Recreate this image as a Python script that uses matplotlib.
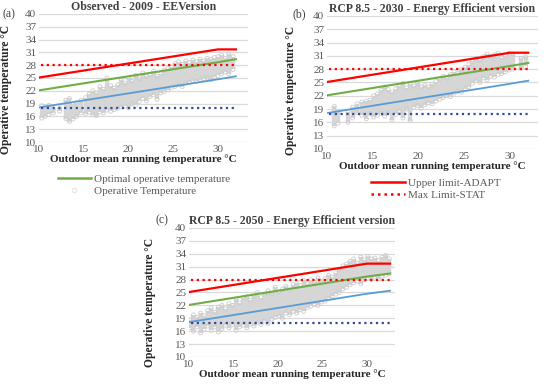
import matplotlib.pyplot as plt
import numpy as np
from matplotlib.lines import Line2D

plt.rcParams['font.family'] = ['Liberation Serif', 'DejaVu Serif']

# comfort limit lines (shared by all panels)
lim_x = [10, 30, 32]
upper_adapt = [25.1, 31.7, 31.7]
optimal = [22.1, 28.7, 29.4]
lower_adapt = [18.1, 24.7, 25.4]
max_stat = 28
min_stat = 18

yticks = [10, 13, 16, 19, 22, 25, 28, 31, 34, 37, 40]
xticks = [10, 15, 20, 25, 30]

# operative temperature clouds: x, low, high of each vertical streak
a_x = [10.3, 10.7, 11.1, 11.6, 12.3, 13.0, 13.4, 13.8, 14.2, 14.7, 15.2, 15.6, 16.0,
       16.4, 16.8, 17.2, 17.6, 18.0, 18.4, 18.8, 19.2, 19.6, 20.0, 20.4, 20.8, 21.2,
       21.6, 22.0, 22.4, 22.8, 23.2, 23.6, 24.0, 24.4, 24.8, 25.2, 25.6, 26.0, 26.4,
       26.8, 27.2, 27.6, 28.0, 28.4, 28.8, 29.2, 29.6, 30.0, 30.4, 30.8, 31.2, 31.7]
a_lo = [15.6, 16.0, 16.5, 16.8, 17.2, 15.5, 14.8, 15.4, 16.0, 16.8, 16.6, 17.0, 16.4,
        16.2, 17.0, 16.8, 17.5, 17.2, 17.6, 17.9, 18.2, 18.4, 18.0, 19.0, 18.6, 19.5,
        20.2, 19.6, 20.6, 21.0, 20.0, 21.5, 21.8, 22.2, 22.8, 23.0, 23.4, 23.0, 23.8,
        24.0, 24.4, 24.2, 24.6, 24.8, 25.0, 24.6, 25.2, 25.6, 26.0, 26.4, 26.0, 27.0]
a_hi = [18.5, 18.2, 18.6, 17.8, 18.0, 19.8, 20.2, 18.8, 19.2, 19.8, 20.4, 21.2, 22.0,
        21.5, 23.0, 22.4, 25.0, 23.2, 22.6, 23.4, 24.5, 23.8, 25.0, 24.2, 25.6, 24.8,
        26.2, 25.4, 25.8, 26.6, 25.4, 26.0, 26.8, 27.2, 27.5, 28.4, 28.8, 28.2, 29.0,
        28.6, 29.2, 28.8, 29.4, 29.0, 29.6, 29.4, 29.8, 30.0, 30.4, 29.6, 30.6, 30.0]

b_x = [10.8, 11.2, 12.3, 12.8, 13.3, 13.8, 14.3, 14.7, 15.1, 15.5, 15.9, 16.3, 16.7,
       17.1, 17.5, 17.9, 18.3, 18.7, 19.1, 19.5, 19.9, 20.3, 20.7, 21.1, 21.5, 21.9,
       22.3, 22.7, 23.1, 23.5, 23.9, 24.3, 24.7, 25.1, 25.5, 25.9, 26.3, 26.7, 27.1,
       27.5, 27.9, 28.3, 28.7, 29.1, 29.5, 29.9, 30.3, 31.2, 31.7]
b_lo = [15.2, 15.8, 16.0, 17.0, 18.2, 17.6, 16.8, 18.0, 17.2, 17.6, 18.0, 17.4, 18.2,
        16.6, 17.8, 18.6, 17.0, 19.0, 16.4, 19.4, 19.8, 19.2, 20.0, 20.4, 20.2, 20.8,
        21.2, 21.6, 22.0, 21.8, 22.6, 23.0, 22.8, 23.6, 24.0, 24.8, 25.4, 25.0, 26.0,
        25.6, 26.4, 26.2, 26.8, 27.0, 27.4, 27.8, 28.0, 28.2, 28.6]
b_hi = [19.6, 18.4, 18.4, 19.4, 20.2, 20.6, 20.8, 21.0, 22.0, 22.4, 23.2, 24.0, 23.4,
        22.8, 23.6, 24.2, 24.8, 23.8, 24.6, 24.2, 24.8, 24.0, 24.4, 24.0, 24.6, 25.2,
        25.8, 26.4, 26.0, 26.8, 27.4, 27.0, 28.0, 28.4, 29.0, 29.8, 30.4, 30.0, 30.8,
        31.4, 30.8, 31.2, 31.6, 30.6, 31.0, 31.6, 31.4, 30.4, 30.8]

c_x = [10.1, 10.5, 10.9, 11.3, 11.7, 12.1, 12.5, 12.9, 13.3, 13.7, 14.1, 14.5, 14.9,
       15.3, 15.7, 16.1, 16.5, 16.9, 17.3, 17.7, 18.1, 18.5, 18.9, 19.3, 19.7, 20.1,
       20.5, 20.9, 21.3, 21.7, 22.1, 22.5, 22.9, 23.3, 23.7, 24.1, 24.5, 24.9, 25.3,
       25.7, 26.1, 26.5, 26.9, 27.3, 27.7, 28.1, 28.5, 28.9, 29.3, 29.7, 30.1, 30.5,
       30.9, 31.3, 31.7, 32.1, 32.5]
c_lo = [16.8, 16.0, 17.0, 15.6, 16.4, 17.2, 16.2, 17.0, 15.8, 16.6, 17.4, 16.8, 17.6,
        16.2, 17.0, 17.4, 16.8, 17.6, 17.2, 18.0, 17.6, 18.4, 17.8, 18.8, 19.2, 19.6,
        19.0, 20.2, 19.8, 20.6, 20.2, 21.0, 20.6, 21.4, 21.8, 22.2, 22.0, 22.8, 23.0,
        23.6, 24.2, 24.6, 25.0, 25.8, 26.2, 26.8, 27.2, 27.6, 27.0, 28.0, 28.4, 28.0,
        28.6, 28.2, 28.8, 29.0, 29.4]
c_hi = [18.6, 19.8, 19.2, 20.2, 19.6, 20.8, 21.4, 20.4, 21.6, 22.0, 21.2, 22.4, 22.0,
        23.4, 22.6, 23.8, 24.0, 23.2, 24.2, 25.0, 23.8, 24.6, 25.4, 24.8, 26.2, 25.2,
        25.8, 26.4, 25.6, 26.8, 27.2, 26.6, 27.8, 27.0, 28.0, 27.4, 28.4, 27.6, 28.2,
        29.0, 28.6, 29.6, 30.4, 31.2, 31.6, 32.2, 32.8, 31.8, 33.2, 32.6, 33.4, 32.8,
        33.0, 32.4, 33.2, 33.6, 32.8]

panels = [
    ('(a)', 'Observed - 2009 - EEVersion', a_x, a_lo, a_hi),
    ('(b)', 'RCP 8.5 - 2030 - Energy Efficient version', b_x, b_lo, b_hi),
    ('(c)', 'RCP 8.5 - 2050 - Energy Efficient version', c_x, c_lo, c_hi),
]
# axes boxes in figure fractions, right x-limit, line end, y-label position
boxes = [([0.0709, 0.634, 0.380, 0.330], 33.35, 32.0, (-0.13, 0.41)),
         ([0.5945, 0.616, 0.3836, 0.343], 33.06, 32.0, (-0.142, 0.44)),
         ([0.3436, 0.080, 0.3745, 0.3325], 33.15, 32.6, (-0.16, 0.42))]

grid_c = '#d9d9d9'
tick_c = '#595959'
cloud_c = '#d6d6d6'

fig = plt.figure(figsize=(5.5, 3.88), dpi=100)
axes = []
for (lab, title, cx, clo, chi), (box, xr, xend, ylpos) in zip(panels, boxes):
    ax = fig.add_axes(box)
    axes.append(ax)
    ax.set_xlim(10, xr)
    ax.set_ylim(10, 40)
    for s in ax.spines.values():
        s.set_visible(False)
    ax.set_yticks(yticks)
    ax.set_xticks(xticks)
    ax.tick_params(length=0, labelsize=8, labelcolor=tick_c, pad=2)
    ax.grid(axis='y', color=grid_c, lw=0.9)
    ax.set_axisbelow(True)

    ax.vlines(cx, clo, chi, color=cloud_c, lw=3.2, zorder=2)
    ax.scatter(cx + cx, clo + chi, s=8, facecolors='none', edgecolors='#cccccc',
               lw=0.6, zorder=2)

    lx = lim_x[:2] + [xend]
    ax.plot(lx, upper_adapt, color='#ff0000', lw=1.6, zorder=3)
    ax.plot(lx, optimal, color='#70ad47', lw=1.5, zorder=3)
    ax.plot(lx, lower_adapt, color='#5b9bd5', lw=1.3, zorder=3)
    ax.plot([10.2, xend], [max_stat, max_stat], color='#ff0000', lw=1.6,
            ls=(0, (1, 1.6)), zorder=3)
    ax.plot([10.2, xend], [min_stat, min_stat], color='#2e4f9e', lw=1.6,
            ls=(0, (1, 1.6)), zorder=3)

    ax.set_title(title, fontsize=8.5, fontweight='bold', color='#404040', pad=3)
    ax.set_ylabel('Operative temperature °C', fontsize=8.3, fontweight='bold',
                  color='#262626')
    ax.yaxis.set_label_coords(*ylpos)
    ax.set_xlabel('Outdoor mean running temperature °C', fontsize=8,
                  fontweight='bold', color='#262626', labelpad=0)

fig.text(0.004, 0.955, '(a)', fontsize=8.5, color='#404040')
fig.text(0.531, 0.955, '(b)', fontsize=8.5, color='#404040')
fig.text(0.282, 0.425, '(c)', fontsize=8.5, color='#404040')

h_a = [Line2D([], [], color='#70ad47', lw=1.8),
       Line2D([], [], ls='none', marker='o', ms=3, mfc='none', mec='#e6e6e6')]
axes[0].legend(h_a, ['Optimal operative temperature', 'Operative Temperature'],
               loc='upper left', bbox_to_anchor=(0.095, 0.565),
               bbox_transform=fig.transFigure, frameon=False, fontsize=8,
               labelcolor=tick_c, handlelength=3.0, handletextpad=0.3,
               labelspacing=0.2, borderpad=0)

h_b = [Line2D([], [], color='#ff0000', lw=1.8),
       Line2D([], [], color='#ff0000', lw=1.8, ls=(0, (1, 1.6)))]
axes[1].legend(h_b, ['Upper limit-ADAPT', 'Max Limit-STAT'],
               loc='upper left', bbox_to_anchor=(0.665, 0.555),
               bbox_transform=fig.transFigure, frameon=False, fontsize=8,
               labelcolor=tick_c, handlelength=3.0, handletextpad=0.3,
               labelspacing=0.2, borderpad=0)

fig.savefig('out.png', dpi=100)
